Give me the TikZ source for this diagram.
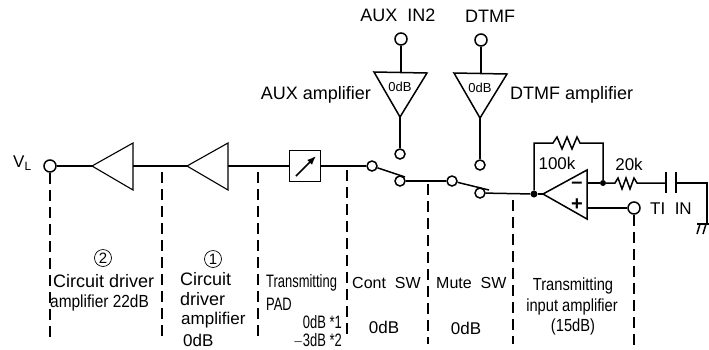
\documentclass[tikz,border=0pt]{standalone}
\usepackage{xcolor}
\usepackage{fontspec}
\setmainfont{Liberation Sans}
\usetikzlibrary{arrows.meta, positioning, calc}
\tikzset{
	lbl/.style={inner sep=0pt, font=\fontsize{17}{19}\selectfont},
	swlbl/.style={inner sep=0pt, font=\fontsize{16}{18}\selectfont},
	biglbl/.style={inner sep=0pt, font=\fontsize{18}{20}\selectfont},
	narrowlbl/.style={inner sep=0pt, font=\fontsize{18}{20}\selectfont, xscale=0.72},
	midlbl/.style={inner sep=0pt, font=\fontsize{17.5}{20}\selectfont, xscale=0.84},
	gainlbl/.style={inner sep=0pt, font=\fontsize{13}{15}\selectfont},
	signlbl/.style={inner sep=0pt, font=\bfseries\fontsize{20}{20}\selectfont},
	numlbl/.style={draw, circle, line width=0.7pt, inner sep=0pt, minimum size=17pt, font=\fontsize{15}{15}\selectfont},
	pin/.style={draw, circle, line width=1.5pt, inner sep=0pt, minimum size=12pt, fill=white},
	contact/.style={draw, circle, line width=1.5pt, inner sep=0pt, minimum size=10pt, fill=white},
	dot/.style={fill, circle, inner sep=0pt, minimum size=7pt},
	wire/.style={line width=1.5pt},
	divider/.style={line width=1.5pt, dash pattern=on 11pt off 6pt}
}
\begin{document}
\begin{tikzpicture}[x=1pt, y=-1pt, line join=miter]
	\useasboundingbox (0,0) rectangle (709,349);

	% Pins and contacts
	\node[pin] (vl) at (50,166) {};
	\node[pin] (auxin) at (401,39) {};
	\node[pin] (dtmfin) at (481,40) {};
	\node[contact] (auxout) at (400,154) {};
	\node[contact] (dtmfout) at (480,165) {};
	\node[contact] (contin) at (372,166) {};
	\node[contact] (contout) at (400,181) {};
	\node[contact] (mutein) at (452,181) {};
	\node[contact] (muteout) at (480,193) {};
	\node[pin] (tin) at (634,208) {};
	\node[dot] (sum) at (534,194) {};
	\node[dot, minimum size=6pt] (fb) at (603,183) {};

	% Coordinates on the amplifiers
	\coordinate (drvtwotip) at (92,166);
	\coordinate (drvtwoback) at (133,166);
	\coordinate (drvonetip) at (187,166);
	\coordinate (drvoneback) at (228,166);
	\coordinate (auxtop) at (401,72);
	\coordinate (auxtip) at (400,117);
	\coordinate (dtmftop) at (481,73);
	\coordinate (dtmftip) at (480,118);
	\coordinate (optip) at (543,194);
	\coordinate (opminus) at (587,183);
	\coordinate (opplus) at (587,208);

	% Amplifiers
	\draw[line width=1.1pt] (drvtwotip) -- (133,143) -- (133,190) -- cycle;
	\draw[line width=1.1pt] (drvonetip) -- (228,143) -- (228,190) -- cycle;
	\draw[wire] (374,72) -- (427,73) -- (auxtip) -- cycle;
	\draw[wire] (454,73) -- (507,74) -- (dtmftip) -- cycle;
	\draw[wire] (optip) -- (587,170) -- (587,219) -- cycle;
	\node[gainlbl] (auxgain) at (400,87) {0dB};
	\node[gainlbl] (dtmfgain) at (480,88) {0dB};
	\node[signlbl] (minus) at (577,185) {–};
	\node[signlbl] (plus) at (577,205) {+};

	% PAD
	\node[draw, line width=1.6pt, minimum size=31pt, inner sep=0pt] (pad) at (305,166) {};
	\draw[line width=1.6pt, -{Latex[length=9pt,width=7pt]}] (296,176) -- (316,156);

	% Signal path
	\draw[wire] (vl) -- (drvtwotip);
	\draw[wire] (drvtwoback) -- (drvonetip);
	\draw[wire] (drvoneback) -- (pad);
	\draw[wire] (pad) -- (contin);
	\draw[wire] (contin) -- (405,177);
	\draw[wire] (contout) -- (mutein);
	\draw[wire] (mutein) -- (489,190);
	\draw[wire] (muteout) -- (sum);
	\draw[wire] (sum) -- (optip);
	\draw[wire] (auxin) -- (auxtop);
	\draw[wire] (auxtip) -- (auxout);
	\draw[wire] (dtmfin) -- (dtmftop);
	\draw[wire] (dtmftip) -- (dtmfout);

	% Feedback and input
	\draw[wire] (sum) |- (553,143) -- ++(4,-6) -- ++(5,12) -- ++(5,-12) -- ++(5,12) -- ++(5,-12) -- ++(3,6) -| (fb);
	\draw[wire] (opminus) -- (fb);
	\draw[wire] (fb) -- (615,183) -- ++(3,-5) -- ++(4,11) -- ++(4,-11) -- ++(4,11) -- ++(4,-11) -- ++(3,5) -- (666,183);
	\draw[wire] (opplus) -- (tin);
	\draw[line width=1.8pt] (666,172) -- (666,193);
	\draw[line width=1.8pt] (676,172) -- (676,193);
	\draw[wire] (676,183) -- (707,183) -- (707,224);
	\draw[wire] (697,224) -- (709,224);
	\draw[wire] (700,224) -- (697,234);
	\draw[wire] (706,224) -- (703,234);

	% Dividers
	\draw[divider] (vl) -- (50,340);
	\draw[divider] (162,172) -- (162,340);
	\draw[divider] (258,172) -- (258,340);
	\draw[divider] (347,170) -- (347,340);
	\draw[divider] (428,184) -- (428,344);
	\draw[divider] (513,200) -- (513,344);
	\draw[divider] (tin) -- (634,346);

	% Top labels
	\node[biglbl] (auxlabel) at (398,15) {AUX\ \ IN2};
	\node[biglbl] (dtmflabel) at (490,16) {DTMF};
	\node[biglbl, left] (auxamp) at (371,95) {AUX amplifier};
	\node[biglbl, right] (dtmfamp) at (510,95) {DTMF amplifier};
	\node[lbl, right] (vllabel) at (13,163) {V\textsubscript{L}};
	\node[lbl] (hundred) at (557,163) {100k};
	\node[lbl] (twenty) at (629,164) {20k};
	\node[lbl, right] (tilabel) at (650,209) {TI\ \ IN};

	% Section labels
	\node[numlbl] (numtwo) at (103,258) {2};
	\node[numlbl] (numone) at (213,259) {1};
	\node[biglbl, right] (drvtwoa) at (53,281) {Circuit driver};
	\node[midlbl, xscale=1.05, right] (drvtwob) at (50,303) {amplifier 22dB};
	\node[biglbl, right] (drvonea) at (180,279) {Circuit};
	\node[biglbl, right] (drvoneb) at (180,299) {driver};
	\node[lbl, right] (drvonec) at (181,320) {amplifier};
	\node[lbl, right] (drvoned) at (183,340) {0dB};
	\node[narrowlbl, right] (pada) at (266,283) {Transmitting};
	\node[narrowlbl, right] (padb) at (266,304) {PAD};
	\node[narrowlbl, left] (padc) at (342,322) {0dB *1};
	\node[narrowlbl, left] (padd) at (342,341) {$-$3dB *2};
	\node[swlbl, right] (contlabel) at (352,283) {Cont\ \ SW};
	\node[lbl] (contgain) at (384,327) {0dB};
	\node[swlbl, right] (mutelabel) at (436,283) {Mute\ \ SW};
	\node[lbl] (mutegain) at (466,328) {0dB};
	\node[midlbl] (inputa) at (573,286) {Transmitting};
	\node[midlbl] (inputb) at (572,307) {input amplifier};
	\node[midlbl] (inputc) at (573,327) {(15dB)};
\end{tikzpicture}
\end{document}
